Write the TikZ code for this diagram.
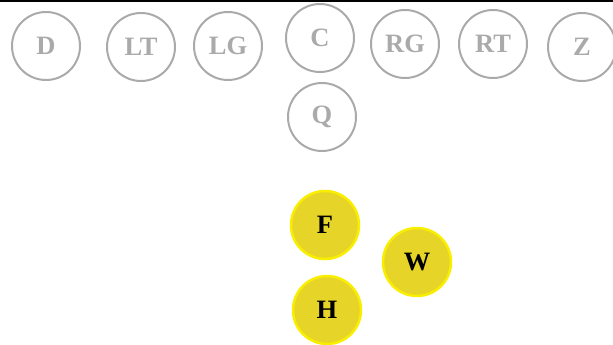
\documentclass[tikz,border=0pt]{standalone}
\usepackage{fontspec}
\setmainfont{Liberation Serif}
\definecolor{pgray}{RGB}{170,170,170}
\definecolor{pfill}{RGB}{230,212,40}
\definecolor{pedge}{RGB}{250,238,0}
\begin{document}
\begin{tikzpicture}[x=1pt,y=-1pt,
  off/.style={circle,draw=pgray,line width=2pt,minimum size=68pt,inner sep=0pt,text=pgray,font=\fontsize{26.5}{26.5}\selectfont\bfseries},
  def/.style={circle,draw=pedge,fill=pfill,line width=2.5pt,minimum size=68pt,inner sep=0pt,text=black,font=\fontsize{26.5}{26.5}\selectfont\bfseries}]
\useasboundingbox (0,0) rectangle (613,345);
\fill[black] (0,0) rectangle (613,2);
\node[off] (D) at (46,46) {D};
\node[off] (LT) at (141,47) {LT};
\node[off] (LG) at (228,46) {LG};
\node[off] (C) at (320,38) {C};
\node[off] (RG) at (405,44) {RG};
\node[off] (RT) at (493,44) {RT};
\node[off] (Z) at (582,47) {Z};
\node[off] (Q) at (322,117) {Q};
\node[def] (F) at (325,225) {F};
\node[def] (W) at (417,262) {W};
\node[def] (H) at (327,310) {H};
\end{tikzpicture}
\end{document}
